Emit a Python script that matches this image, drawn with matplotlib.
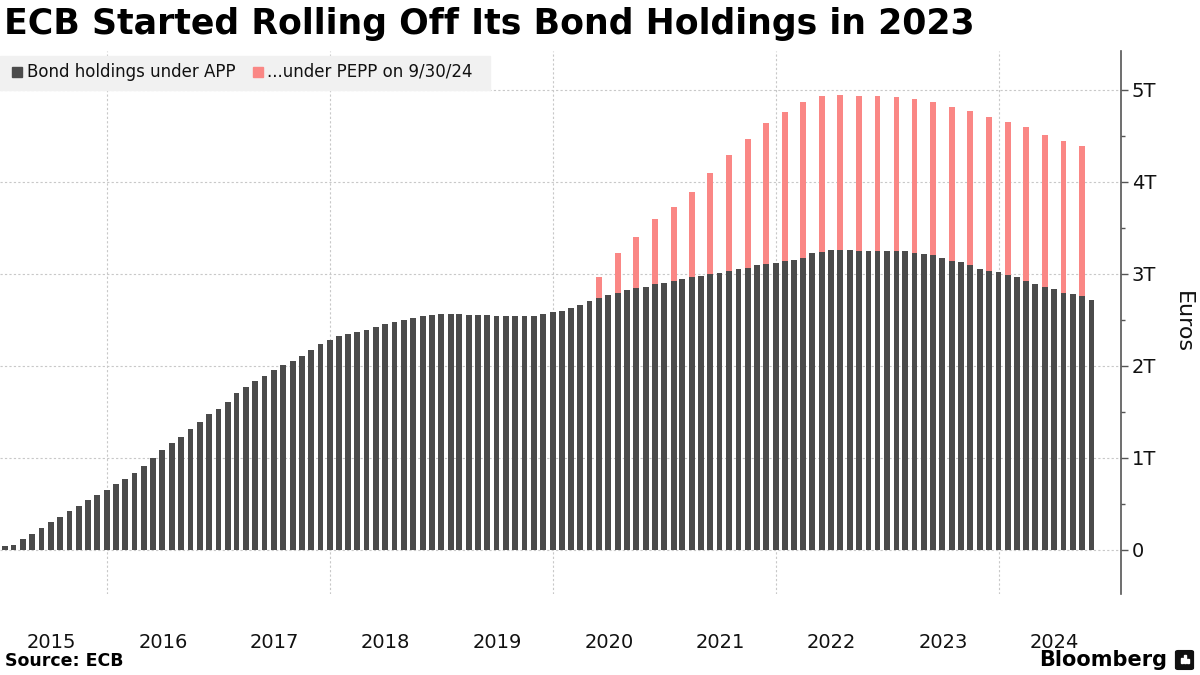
import numpy as np
import pandas as pd
import matplotlib
matplotlib.use('Agg')
import matplotlib.pyplot as plt
import matplotlib.dates as mdates
from matplotlib.patches import Rectangle, FancyBboxPatch
from matplotlib.ticker import MultipleLocator, FuncFormatter

# APP holdings, trillions of euros, month-end Jan 2015 .. Oct 2024
app_dates = pd.date_range('2015-01-31', periods=118, freq='ME')
app_values = [
    0.043, 0.054, 0.12, 0.17, 0.24, 0.30, 0.36, 0.42, 0.48, 0.54, 0.60, 0.65,
    0.71, 0.77, 0.83, 0.91, 1.00, 1.09, 1.165, 1.23, 1.31, 1.39, 1.48, 1.53,
    1.61, 1.70, 1.77, 1.83, 1.89, 1.95, 2.01, 2.05, 2.11, 2.17, 2.24, 2.28,
    2.32, 2.34, 2.37, 2.39, 2.42, 2.45, 2.48, 2.50, 2.52, 2.54, 2.55, 2.565,
    2.565, 2.565, 2.55, 2.55, 2.55, 2.54, 2.54, 2.54, 2.54, 2.54, 2.565, 2.58,
    2.60, 2.625, 2.66, 2.70, 2.74, 2.77, 2.79, 2.82, 2.84, 2.86, 2.89, 2.90,
    2.92, 2.945, 2.96, 2.98, 3.00, 3.01, 3.03, 3.05, 3.065, 3.09, 3.11, 3.12,
    3.14, 3.15, 3.17, 3.22, 3.24, 3.26, 3.26, 3.26, 3.25, 3.25, 3.25, 3.25,
    3.25, 3.25, 3.23, 3.21, 3.20, 3.17, 3.14, 3.13, 3.10, 3.05, 3.03, 3.02,
    2.99, 2.96, 2.92, 2.89, 2.86, 2.83, 2.79, 2.78, 2.76, 2.72,
]

# PEPP holdings, bimonthly May 2020 .. Sep 2024 (stacked on APP)
pepp_dates = pd.date_range('2020-05-31', '2024-09-30', freq='2ME')
pepp_values = [
    0.23, 0.44, 0.56, 0.70, 0.81, 0.93, 1.10, 1.26, 1.395, 1.53, 1.62, 1.70,
    1.695, 1.685, 1.685, 1.685, 1.67, 1.67, 1.67, 1.675, 1.67, 1.67, 1.66,
    1.67, 1.65, 1.655, 1.63,
]

years = list(range(2015, 2025))
y_ticks = [0, 1, 2, 3, 4, 5]

dark = '#4b4b4b'
pink = '#fa8785'
grid_col = '#c8c8c8'

app_s = pd.Series(app_values, index=app_dates)
pepp_base = app_s.reindex(pepp_dates).values

fig = plt.figure(figsize=(12, 6.75), dpi=100)
ax = fig.add_axes([0, 0.12, 0.934, 0.8044])

ax.bar(app_dates, app_values, width=19, color=dark, zorder=3)
ax.bar(pepp_dates, pepp_values, bottom=pepp_base, width=19, color=pink, zorder=3)

ax.set_xlim(pd.Timestamp('2015-01-15'), pd.Timestamp('2025-02-04'))
ax.set_ylim(-0.48, 5.42)

# y axis on the right
ax.yaxis.tick_right()
ax.set_yticks(y_ticks)
ax.yaxis.set_minor_locator(MultipleLocator(0.5))
ax.yaxis.set_major_formatter(FuncFormatter(lambda v, p: '0' if v == 0 else f'{int(v)}T'))
ax.tick_params(axis='y', which='major', length=5, width=1, color='#555555',
               labelsize=14, pad=3, labelcolor='#111111')
ax.tick_params(axis='y', which='minor', length=3, width=1, color='#555555')

# x axis: gridlines at even years, labels centred in each year
ax.set_xticks([pd.Timestamp(f'{y}-01-01') for y in years if y % 2 == 0])
ax.set_xticklabels([])
ax.set_xticks([pd.Timestamp(f'{y}-07-02') for y in years], minor=True)
ax.set_xticklabels([str(y) for y in years], minor=True)
ax.tick_params(axis='x', which='both', length=0)
ax.tick_params(axis='x', which='minor', labelsize=14, pad=28, labelcolor='#111111')

ax.grid(True, which='major', axis='both', color=grid_col, linestyle=(0, (2, 2)), linewidth=0.8, zorder=0)

for s in ['top', 'left', 'bottom']:
    ax.spines[s].set_visible(False)
ax.spines['right'].set_color('#555555')
ax.spines['right'].set_linewidth(1.2)

ax.text(1.055, 0.5, 'Euros', transform=ax.transAxes, rotation=270,
        fontsize=16, ha='center', va='center', color='#111111')

# title
fig.text(4 / 1200, 1 - 24 / 675, 'ECB Started Rolling Off Its Bond Holdings in 2023',
         fontsize=25, fontweight='heavy', ha='left', va='center', color='#000000')

# legend
fig.patches.append(Rectangle((0, 1 - 90 / 675), 490 / 1200, 34 / 675,
                             transform=fig.transFigure, color='#f1f1f1', zorder=1))
fig.patches.append(Rectangle((12 / 1200, 1 - 77 / 675), 10 / 1200, 10 / 675,
                             transform=fig.transFigure, color=dark, zorder=2))
fig.text(27 / 1200, 1 - 72 / 675, 'Bond holdings under APP', fontsize=12,
         ha='left', va='center', color='#111111')
fig.patches.append(Rectangle((253 / 1200, 1 - 77 / 675), 10 / 1200, 10 / 675,
                             transform=fig.transFigure, color=pink, zorder=2))
fig.text(267 / 1200, 1 - 72 / 675, '...under PEPP on 9/30/24', fontsize=12,
         ha='left', va='center', color='#111111')

# footer
fig.text(5 / 1200, 1 - 661 / 675, 'Source: ECB', fontsize=12.5, fontweight='bold',
         ha='left', va='center', color='#000000')
fig.text(1167 / 1200, 1 - 660 / 675, 'Bloomberg', fontsize=15, fontweight='bold',
         ha='right', va='center', color='#000000')
fig.patches.append(FancyBboxPatch((1178 / 1200, 1 - 668 / 675), 13 / 1200, 16 / 675,
                                  boxstyle='round,pad=0.002', transform=fig.transFigure,
                                  color='#111111', zorder=2))
for bx, bh in [(1181, 5), (1184, 8), (1187, 4)]:
    fig.patches.append(Rectangle((bx / 1200, 1 - 663 / 675), 1.5 / 1200, bh / 675,
                                 transform=fig.transFigure, color='white', zorder=3))

fig.savefig('out.png', dpi=100)
